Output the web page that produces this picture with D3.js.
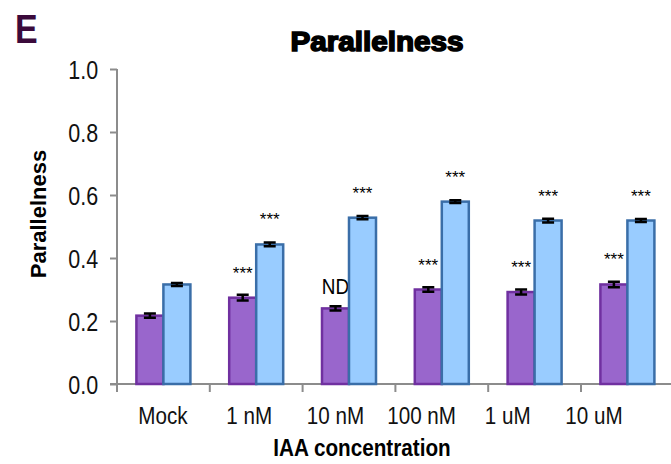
<!DOCTYPE html>
<html>
<head>
<meta charset="utf-8">
<script src="https://cdn.jsdelivr.net/npm/d3@7"></script>
<style>
  body { margin: 0; background: #fff; }
  svg text { font-family: "Liberation Sans", Arial, sans-serif; }
</style>
</head>
<body>
<svg id="chart"></svg>
<script>
const categories = ['Mock', '1 nM', '10 nM', '100 nM', '1 uM', '10 uM'];
const seriesNames = ['purple', 'blue'];
const purpleValues = [0.217, 0.274, 0.240, 0.300, 0.292, 0.316];
const purpleErrors = [0.007, 0.009, 0.007, 0.007, 0.008, 0.009];
const blueValues = [0.316, 0.443, 0.528, 0.579, 0.519, 0.519];
const blueErrors = [0.005, 0.006, 0.005, 0.004, 0.006, 0.005];
const purpleMarks = ['', '***', 'ND', '***', '***', '***'];
const blueMarks = ['', '***', '***', '***', '***', '***'];
const yTicks = [0, 0.2, 0.4, 0.6, 0.8, 1.0];

const width = 671, height = 464;
const margin = {top: 69, left: 117};
const plotBottom = 384;
// the reference uses a narrow font, fake it with a horizontal squeeze
const narrow = 0.86;

const svg = d3.select('#chart')
  .attr('width', width)
  .attr('height', height);

const x = d3.scaleBand()
  .domain(categories)
  .range([margin.left, margin.left + 6 * 92.8]);

const x1 = d3.scaleBand()
  .domain(seriesNames)
  .range([0, 54]);

const y = d3.scaleLinear()
  .domain([0, 1])
  .range([plotBottom, margin.top]);

// label positions in the reference drift a bit from the bar groups
const xLabel = d3.scalePoint()
  .domain(categories)
  .range([163, 594]);

const rows = categories.map((c, i) => ({
  cat: c,
  bars: [
    {s: 'purple', v: purpleValues[i], e: purpleErrors[i], m: purpleMarks[i]},
    {s: 'blue', v: blueValues[i], e: blueErrors[i], m: blueMarks[i]}
  ]
}));

const fill = {purple: '#9966cc', blue: '#99ccff'};
const stroke = {purple: '#7030a0', blue: '#3a6ea8'};

// axes
const axisY = d3.axisLeft(y).tickValues(yTicks).tickFormat(d3.format('.1f')).tickSize(7).tickPadding(15);
const gy = svg.append('g')
  .attr('transform', `translate(${margin.left},0)`)
  .call(axisY);
gy.attr('font-family', null).attr('font-size', null);
gy.select('.domain').attr('stroke', '#8c8c8c').attr('stroke-width', 2)
  .attr('d', `M0,${y(1)}V${plotBottom}`);
gy.selectAll('.tick line').attr('stroke', '#8c8c8c').attr('stroke-width', 2);
gy.selectAll('.tick text')
  .attr('font-size', 25)
  .attr('fill', '#111')
  .attr('dy', '0.36em')
  .attr('transform', `scale(${narrow},1)`);

svg.append('line')
  .attr('x1', margin.left - 7).attr('x2', width)
  .attr('y1', plotBottom).attr('y2', plotBottom)
  .attr('stroke', '#8c8c8c').attr('stroke-width', 2);

svg.append('g').selectAll('line')
  .data(categories)
  .join('line')
  .attr('x1', d => x(d)).attr('x2', d => x(d))
  .attr('y1', plotBottom).attr('y2', plotBottom + 8)
  .attr('stroke', '#8c8c8c').attr('stroke-width', 2);

svg.append('g').selectAll('text')
  .data(categories)
  .join('text')
  .attr('transform', d => `translate(${xLabel(d)},424) scale(${narrow},1)`)
  .attr('text-anchor', 'middle')
  .attr('font-size', 24)
  .attr('fill', '#111')
  .text(d => d);

// bars
const groups = svg.append('g').selectAll('g')
  .data(rows)
  .join('g')
  .attr('transform', d => `translate(${x(d.cat) + x.bandwidth() / 2 - 27},0)`);

const bar = groups.selectAll('g')
  .data(d => d.bars)
  .join('g');

bar.append('rect')
  .attr('x', d => x1(d.s))
  .attr('y', d => y(d.v))
  .attr('width', x1.bandwidth())
  .attr('height', d => plotBottom - y(d.v))
  .attr('fill', d => fill[d.s])
  .attr('stroke', d => stroke[d.s])
  .attr('stroke-width', 2.5);

const cx = d => x1(d.s) + x1.bandwidth() / 2;
bar.append('path')
  .attr('d', d => `M${cx(d)},${y(d.v + d.e)}V${y(d.v - d.e)}` +
    `M${cx(d) - 6},${y(d.v + d.e)}H${cx(d) + 6}` +
    `M${cx(d) - 6},${y(d.v - d.e)}H${cx(d) + 6}`)
  .attr('stroke', '#000')
  .attr('stroke-width', 2.5)
  .attr('fill', 'none');

bar.filter(d => d.m === '***').append('text')
  .attr('x', cx)
  .attr('y', d => y(d.v) - 19)
  .attr('text-anchor', 'middle')
  .attr('font-size', 17)
  .text(d => d.m);

bar.filter(d => d.m === 'ND').append('text')
  .attr('transform', d => `translate(${cx(d)},${y(d.v) - 14}) scale(${narrow},1)`)
  .attr('text-anchor', 'middle')
  .attr('font-size', 22)
  .text(d => d.m);

// titles
svg.append('text')
  .attr('transform', 'translate(15,43) scale(0.85,1)')
  .attr('font-weight', 'bold')
  .attr('font-size', 40)
  .attr('fill', '#3b0a3b')
  .text('E');

svg.append('text')
  .attr('transform', 'translate(377,51) scale(1.06,1)')
  .attr('text-anchor', 'middle')
  .attr('font-weight', 'bold')
  .attr('font-size', 28)
  .attr('stroke', '#000').attr('stroke-width', 1.6)
  .text('Parallelness');

svg.append('text')
  .attr('transform', 'translate(46,214) rotate(-90)')
  .attr('text-anchor', 'middle')
  .attr('font-weight', 'bold')
  .attr('font-size', 22)
  .text('Parallelness');

svg.append('text')
  .attr('transform', `translate(362,456) scale(0.9,1)`)
  .attr('text-anchor', 'middle')
  .attr('font-weight', 'bold')
  .attr('font-size', 23)
  .text('IAA concentration');
</script>
</body>
</html>
